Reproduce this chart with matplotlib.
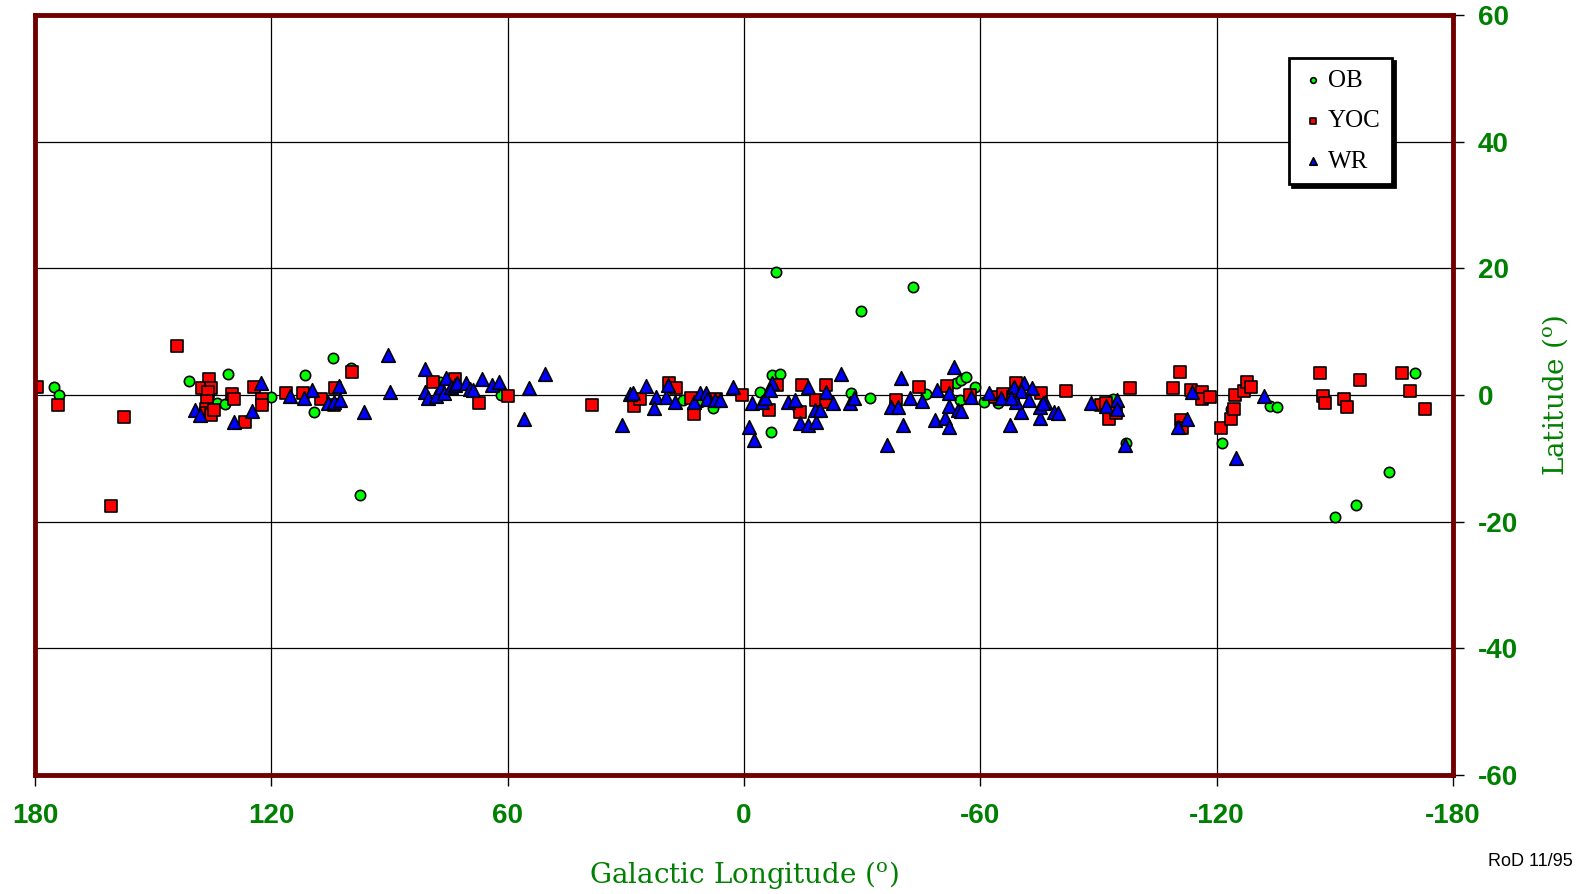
import matplotlib.pyplot as plt

plt.rcParams['mathtext.fontset'] = 'dejavuserif'

# OB stars (galactic longitude, latitude in degrees)
ob_l = [175.3, 173.8, 141.0, 131.1, 133.9, 131.7, 120.0, 111.4, 109.1, 104.3, 99.9, 97.5,
        61.6, 77.3, 15.4, 11.1, 7.8, 7.8, -4.1, -7.2, -9.2, -6.9, -8.1, -13.8, -27.2,
        -29.8, -32.1, -42.8, -46.3, -53.9, -55.2, -56.4, -58.7, -61.0, -54.9, -64.5,
        -93.7, -97.0, -123.6, -121.4, -133.6, -135.4, -170.4, -163.8, -155.4, -150.1]
ob_b = [1.3, 0.0, 2.2, 3.3, -1.3, -1.4, -0.3, 3.2, -2.7, 5.9, 4.3, -15.8,
        0.0, 2.0, -0.8, -1.1, -1.3, -2.1, 0.5, 3.2, 3.3, -5.9, 19.5, -2.2, 0.3,
        13.2, -0.5, 17.0, 0.2, 1.9, 2.4, 2.9, 1.3, -1.1, -0.8, -1.3,
        -0.6, -7.5, -2.2, -7.5, -1.7, -1.9, 3.5, -12.1, -17.3, -19.2]

# young open clusters
yoc_l = [179.6, 174.2, 143.9, 157.3, 160.8, 135.9, 137.7, 135.2, 136.2, 136.4, 136.7, 136.7,
         135.2, 134.5, 129.9, 129.6, 126.8, 124.5, 122.3, 122.3, 116.4, 111.9, 107.3, 103.8,
         104.0, 99.6, 78.9, 73.3, 67.4, 59.8, 38.7, 27.8, 26.3, 19.0, 17.2, 13.4, 12.6, 7.0,
         0.4, -6.4, -8.5, -14.8, -20.9, -18.4, -14.3, -20.9, -38.7, -44.5, -51.6, -57.4,
         -63.8, -65.8, -69.1, -68.4, -75.5, -81.8, -90.7, -91.8, -92.7, -94.5, -98.0, -109.0,
         -110.7, -113.6, -116.4, -116.4, -118.3, -111.0, -111.3, -121.2, -123.7, -124.4,
         -124.7, -126.9, -127.7, -128.8, -146.2, -147.0, -147.5, -152.3, -153.1, -156.4,
         -167.1, -169.2, -172.9]
yoc_b = [1.3, -1.6, 7.8, -3.5, -17.6, 2.5, 1.1, 1.1, 0.5, -1.0, -2.2, -2.9,
         -3.2, -2.4, 0.2, -0.6, -4.3, 1.3, -0.6, -1.6, 0.3, 0.3, -0.7, 1.1,
         -1.6, 3.7, 2.1, 2.5, -1.3, -0.2, -1.6, -1.7, -0.6, 1.9, 1.1, -0.5, -3.0, -0.6,
         0.0, -2.4, 1.6, 1.6, 1.6, -0.8, -2.7, -1.1, -0.8, 1.3, 1.4, 0.0,
         -0.3, 0.2, 1.9, -0.3, 0.3, 0.6, -1.6, -1.3, -3.8, -2.9, 1.1, 1.1,
         3.7, 0.8, 0.5, -0.6, -0.3, -4.0, -5.2, -5.2, -3.8, -2.2,
         0.0, 0.7, 2.1, 1.3, 3.5, -0.2, -1.3, -0.6, -1.9, 2.4,
         3.5, 0.6, -2.2]

# Wolf-Rayet stars
wr_l = [139.3, 138.0, 129.4, 125.0, 122.5, 115.2, 109.8, 111.6, 105.5, 104.0, 102.5, 102.8,
        96.6, 90.5, 90.0, 81.1, 80.9, 80.1, 78.1, 76.8, 75.6, 76.1, 74.5, 73.3, 72.8, 70.5,
        69.5, 68.7, 66.4, 64.1, 62.3, 54.7, 50.4, 55.8, 30.9, 28.9, 28.1, 24.8, 22.3, 22.8,
        19.7, 19.2, 17.4, 12.6, 11.1, 9.6, 9.3, 7.3, 6.0, 2.7, -1.3, -2.6, -2.1, -4.6, -5.4,
        -7.2, -6.7, -11.2, -13.0, -14.3, -16.3, -18.4, -18.1, -19.4, -20.9, -22.7, -24.7,
        -27.0, -27.9, -16.3, -36.4, -37.2, -39.2, -39.9, -40.4, -42.2, -45.3, -49.1, -48.5,
        -51.1, -52.1, -52.1, -53.4, -52.1, -54.4, -55.2, -57.7, -62.3, -65.3, -67.6, -68.6,
        -71.1, -70.4, -70.4, -73.0, -75.2, -75.2, -76.5, -78.8, -69.0, -72.3, -88.2, -92.0,
        -94.8, -94.8, -96.8, -110.2, -112.5, -113.8, -124.9, -132.0, -79.8, -67.8, -76.0]
wr_b = [-2.4, -3.2, -4.3, -2.5, 1.9, -0.2, 0.8, -0.5, -1.3, -1.1, -0.8, 1.4,
        -2.7, 6.3, 0.5, 4.1, 0.5, -0.5, -0.2, 1.3, 2.7, 0.3, 1.3, 1.6, 1.9, 1.9,
        1.0, 0.8, 2.5, 1.6, 2.1, 1.1, 3.3, -3.8, -4.8, 0.2, 0.3, 1.4, -0.3, -2.1,
        -0.3, 1.6, -1.1, -1.1, 0.3, 0.3, -0.6, -0.8, -0.8, 1.3, -5.1, -7.1, -1.3, -1.1, -0.5,
        1.9, 0.8, -1.1, -0.8, -4.4, -4.8, -4.3, -2.4, -2.4, 0.5, -1.3, 3.3,
        -1.3, -0.5, 1.3, -7.9, -1.9, -1.9, 2.7, -4.8, -0.5, -1.0, 0.8, -4.0,
        -3.7, -5.1, -1.7, 4.4, 0.3, -2.4, -2.5, -0.3, 0.3, -0.5, -4.8, 1.3,
        1.9, 0.6, -2.7, 1.1, -3.7, -1.9, -1.1, -2.7, -1.1, -0.8, -1.3, -1.7,
        -0.8, -2.2, -7.9, -5.1, -3.8, 0.5, -10.0, -0.2, -2.9, -0.5, -1.3]

x_ticks = [180, 120, 60, 0, -60, -120, -180]
y_ticks = [60, 40, 20, 0, -20, -40, -60]

green = '#008000'
fig = plt.figure(figsize=(15.76, 8.94), dpi=100)
ax = fig.add_axes([35 / 1576, 1 - 775 / 894, 1418 / 1576, 760 / 894])

ax.scatter(ob_l, ob_b, s=55, marker='o', c='#00ff00', edgecolors='black', linewidths=1.2, zorder=3, label='OB')
ax.scatter(yoc_l, yoc_b, s=78, marker='s', c='#ff0000', edgecolors='black', linewidths=1.2, zorder=4, label='YOC')
ax.scatter(wr_l, wr_b, s=95, marker='^', c='#0000ff', edgecolors='black', linewidths=1.2, zorder=5, label='WR')

ax.set_xlim(180, -180)
ax.set_ylim(-60, 60)
ax.set_xticks(x_ticks)
ax.set_yticks(y_ticks)
ax.set_xticklabels([str(v) for v in x_ticks])
ax.set_yticklabels([str(v) for v in y_ticks])
ax.grid(True, color='black', linewidth=0.9, zorder=1)
ax.set_axisbelow(True)

ax.yaxis.tick_right()
ax.yaxis.set_label_position('right')
ax.tick_params(axis='x', direction='out', length=8, width=1, pad=12, labelsize=20, labelcolor=green)
ax.tick_params(axis='y', direction='out', length=8, width=1, pad=10, labelsize=20, labelcolor=green)
for lab in ax.get_xticklabels() + ax.get_yticklabels():
    lab.set_fontweight('bold')
    lab.set_family('Liberation Sans')

for sp in ax.spines.values():
    sp.set_color('#700000')
    sp.set_linewidth(3.5)
    sp.set_zorder(6)

ax.set_xlabel('Galactic Longitude ($^{\\mathrm{o}}$)', family='DejaVu Serif', fontsize=20,
              color=green, labelpad=22)
ax.set_ylabel('Latitude ($^{\\mathrm{o}}$)', family='DejaVu Serif', fontsize=20,
              color=green, labelpad=16)

leg = ax.legend(loc='upper right', bbox_to_anchor=(1392 / 1576, 1 - 58 / 894),
                bbox_transform=fig.transFigure, frameon=True, fancybox=False,
                shadow={'color': 'black', 'alpha': 1}, markerscale=0.55,
                handletextpad=0.1, handlelength=1.0, labelspacing=0.72,
                borderpad=0.45, borderaxespad=0,
                prop={'family': 'Liberation Serif', 'size': 18})
leg.get_frame().set_edgecolor('black')
leg.get_frame().set_linewidth(2)
leg.set_zorder(10)

# the original stamp runs off the right edge; keep it whole inside the figure
fig.text(1573 / 1576, 1 - 862 / 894, 'RoD 11/95', family='Liberation Sans', fontsize=13,
         color='black', va='center', ha='right')

fig.savefig('out.png', dpi=100)
